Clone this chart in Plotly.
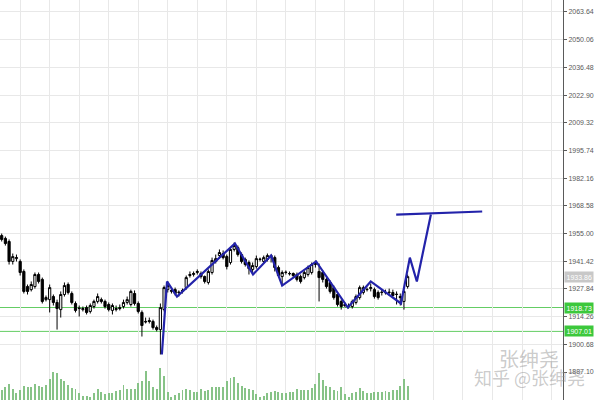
import plotly.graph_objects as go

idx = list(range(111))

opens = [1954.0,1952.6,1951.1,1941.3,1942.7,1941.3,1936.4,1929.0,1927.5,1929.0,
         1934.9,1932.5,1922.6,1922.6,1924.1,1921.2,1917.7,1925.1,1930.0,1925.6,
         1920.7,1918.2,1917.7,1918.7,1916.8,1919.2,1921.7,1922.6,1921.7,1920.2,
         1917.3,1917.7,1918.7,1919.2,1921.2,1920.2,1925.6,1920.7,1916.3,1911.9,
         1912.3,1911.9,1908.9,1907.9,1917.7,1927.5,1926.6,1927.5,1926.1,1926.6,
         1928.5,1934.4,1934.9,1935.9,1935.4,1933.9,1931.0,1935.9,1941.3,1944.2,
         1945.2,1943.7,1940.8,1947.2,1948.1,1944.7,1942.3,1940.8,1937.4,1938.8,
         1942.3,1941.3,1942.3,1944.2,1943.2,1938.3,1933.9,1935.9,1935.4,1935.4,
         1934.9,1933.9,1933.4,1934.9,1935.9,1939.8,1936.4,1935.9,1932.5,1931.0,
         1928.5,1925.1,1921.7,1920.2,1919.2,1919.2,1921.2,1923.6,1926.1,1927.5,
         1928.0,1927.5,1926.1,1926.1,1926.1,1926.1,1926.1,1925.1,1924.1,1921.7,
         1929.0]
highs = [1955.0,1953.5,1952.1,1945.2,1944.7,1942.3,1937.4,1930.0,1931.5,1935.9,
         1935.9,1933.4,1924.6,1930.0,1925.1,1922.6,1926.6,1931.0,1931.0,1926.6,
         1921.7,1919.7,1919.2,1919.7,1920.7,1922.6,1925.6,1923.6,1922.6,1921.2,
         1920.7,1919.7,1920.2,1922.6,1924.1,1927.5,1927.1,1921.7,1917.3,1913.8,
         1913.8,1912.8,1909.9,1920.7,1929.5,1931.5,1928.0,1928.5,1927.1,1928.0,
         1934.4,1936.4,1936.4,1937.4,1936.4,1934.4,1937.4,1943.2,1944.7,1947.2,
         1946.7,1944.7,1948.1,1950.6,1949.1,1945.7,1943.2,1941.8,1940.8,1944.2,
         1943.2,1944.2,1945.2,1944.7,1944.2,1939.3,1936.9,1936.9,1936.4,1935.9,
         1935.9,1934.9,1936.9,1939.3,1940.8,1941.8,1940.3,1936.9,1933.4,1932.0,
         1929.5,1926.1,1922.6,1921.2,1920.7,1922.6,1925.1,1929.5,1929.5,1928.5,
         1930.5,1928.5,1927.1,1927.5,1927.5,1928.0,1927.5,1926.6,1925.6,1927.5,
         1934.9]
lows = [1951.1,1949.1,1939.8,1939.8,1941.3,1934.4,1925.6,1925.1,1926.6,1928.0,
        1930.5,1920.7,1921.7,1916.3,1919.7,1907.9,1913.8,1924.1,1925.1,1920.2,
        1916.3,1914.3,1916.8,1915.3,1915.8,1918.2,1920.7,1920.7,1918.2,1916.8,
        1915.3,1916.8,1917.3,1918.2,1920.2,1919.2,1919.7,1915.8,1904.5,1910.9,
        1910.9,1907.9,1907.0,1895.7,1916.8,1926.1,1925.6,1924.6,1924.1,1925.6,
        1927.5,1933.4,1933.9,1934.9,1932.9,1930.5,1930.0,1934.9,1940.3,1943.2,
        1942.3,1937.4,1939.8,1946.2,1943.7,1940.3,1938.8,1934.9,1935.4,1937.8,
        1941.3,1940.3,1941.3,1940.8,1936.4,1933.4,1929.5,1934.9,1934.4,1933.4,
        1931.5,1930.5,1932.5,1933.9,1934.9,1938.3,1921.7,1931.0,1928.0,1925.6,
        1922.6,1919.2,1917.7,1918.7,1918.2,1918.2,1920.2,1922.6,1925.1,1926.6,
        1926.6,1923.1,1922.6,1924.6,1925.1,1924.6,1924.1,1920.2,1919.7,1917.7,
        1928.0]
closes = [1952.1,1950.1,1941.3,1943.7,1943.2,1935.9,1926.6,1926.6,1930.0,1934.9,
          1931.5,1921.7,1923.6,1928.5,1921.2,1918.2,1925.1,1929.5,1926.1,1921.2,
          1917.3,1918.4,1918.2,1916.3,1919.7,1921.7,1924.1,1921.7,1919.2,1917.7,
          1919.7,1918.2,1918.2,1921.2,1922.6,1926.6,1920.7,1916.8,1909.9,1911.7,
          1911.9,1908.9,1907.9,1918.7,1928.5,1929.5,1927.1,1925.6,1926.2,1927.1,
          1933.4,1934.9,1935.4,1936.4,1933.9,1931.5,1936.4,1941.8,1942.7,1945.7,
          1943.2,1938.8,1947.2,1949.1,1944.7,1941.3,1939.8,1937.8,1939.3,1942.7,
          1942.4,1943.2,1944.2,1943.7,1938.3,1934.4,1935.9,1936.0,1935.3,1934.4,
          1932.5,1931.5,1935.9,1938.3,1939.8,1940.8,1933.4,1932.5,1929.0,1926.6,
          1923.6,1920.2,1919.2,1919.7,1919.3,1921.7,1924.1,1928.5,1928.5,1927.6,
          1928.5,1924.1,1923.6,1926.2,1926.0,1926.2,1924.6,1925.2,1923.6,1926.6,
          1933.86]
volumes = [1000,1300,1600,1100,700,1000,1400,1300,1300,1600,
           1400,1300,1500,2100,2800,2700,2100,1900,1500,1200,
           1100,700,400,400,300,700,1100,800,600,700,
           700,900,1000,1500,1100,1100,1100,1700,1900,2900,
           1900,1300,1100,3200,2400,800,300,500,700,1000,
           1100,1000,800,800,1100,900,1000,1300,1300,1300,
           1300,1900,2200,2300,1700,1400,1200,1100,1000,600,
           300,400,700,800,900,800,700,700,800,800,
           1100,1000,1000,1000,1200,1600,2700,2000,1400,1300,
           1000,900,1300,600,300,700,800,1200,900,700,
           700,800,800,800,900,800,1000,1000,1400,2100,1400]

zig_x = [43.4, 44.8, 47.5, 63.2, 68.1, 73.0, 76.0, 85.2, 93.8, 100.0, 108.2, 110.6, 112.5, 116.3]
zig_y = [1895.7, 1931.5, 1924.1, 1950.1, 1934.9, 1944.2, 1929.5, 1941.3, 1918.7, 1931.5, 1920.7, 1943.2, 1931.5, 1964.3]
target_x = [106.9, 130.2]
target_y = [1964.3, 1965.8]

support_levels = [1918.73, 1907.01]
last_price = 1933.86
tick_vals = [1887.10, 1900.68, 1914.26, 1927.84, 1941.42, 1955.00, 1968.58, 1982.16,
             1995.74, 2009.32, 2022.90, 2036.48, 2050.06, 2063.64]

fig = go.Figure()

fig.add_trace(go.Bar(x=idx, y=volumes, yaxis="y2", width=0.26,
                     marker=dict(color="rgb(135,195,135)", line=dict(width=0)),
                     showlegend=False, hoverinfo="skip"))

fig.add_trace(go.Candlestick(x=idx, open=opens, high=highs, low=lows, close=closes,
                             increasing=dict(line=dict(color="black", width=1), fillcolor="white"),
                             decreasing=dict(line=dict(color="black", width=1), fillcolor="black"),
                             whiskerwidth=0, showlegend=False))

fig.add_trace(go.Scatter(x=zig_x, y=zig_y, mode="lines",
                         line=dict(color="rgb(35,35,170)", width=2.2), showlegend=False))
fig.add_trace(go.Scatter(x=target_x, y=target_y, mode="lines",
                         line=dict(color="rgb(35,35,170)", width=2.2), showlegend=False))

for lv in support_levels:
    fig.add_shape(type="line", xref="paper", x0=0, x1=1, yref="y", y0=lv, y1=lv,
                  line=dict(color="rgb(100,205,100)", width=1), layer="below")

annots = []
for lv in support_levels:
    annots.append(dict(xref="paper", x=1.0, yref="y", y=lv, xanchor="left", yanchor="middle",
                       text=f"{lv:.2f}", showarrow=False, bgcolor="rgb(60,200,60)",
                       font=dict(family="Liberation Sans, Arial", size=7, color="white"),
                       borderpad=1.5, xshift=1))
annots.append(dict(xref="paper", x=1.0, yref="y", y=last_price, xanchor="left", yanchor="middle",
                   text=f"{last_price:.2f}", showarrow=False, bgcolor="rgb(200,200,200)",
                   font=dict(family="Liberation Sans, Arial", size=7, color="white"),
                   borderpad=1.5, xshift=1))
annots.append(dict(xref="paper", yref="paper", x=0.94, y=0.105, text="张绅尧", showarrow=False,
                   font=dict(family="Noto Sans CJK SC", size=20, color="rgba(140,140,140,0.45)"),
                   xanchor="center", yanchor="middle"))
annots.append(dict(xref="paper", yref="paper", x=0.94, y=0.058, text="知乎 @张绅尧", showarrow=False,
                   font=dict(family="Noto Sans CJK SC", size=18, color="rgba(140,140,140,0.45)"),
                   xanchor="center", yanchor="middle"))

fig.update_layout(
    width=600, height=400,
    margin=dict(l=0, r=37, t=0, b=0),
    paper_bgcolor="white", plot_bgcolor="white",
    showlegend=False,
    annotations=annots,
    boxgap=0.15,
    xaxis=dict(range=[-0.46, 152.1], rangeslider=dict(visible=False),
               tickmode="linear", tick0=5, dtick=8, showticklabels=False,
               showgrid=True, gridcolor="rgb(232,232,232)", gridwidth=1, zeroline=False,
               showline=False, ticks=""),
    yaxis=dict(range=[1873.37, 2069.52], side="right", tickmode="array", tickvals=tick_vals,
               ticktext=[f"{v:.2f}" for v in tick_vals],
               showgrid=True, gridcolor="rgb(232,232,232)", gridwidth=1, zeroline=False,
               showline=True, linecolor="rgb(90,90,90)", linewidth=1,
               ticks="outside", ticklen=3, tickcolor="rgb(90,90,90)",
               tickfont=dict(family="Liberation Sans, Arial", size=7, color="rgb(90,90,90)")),
    yaxis2=dict(domain=[0, 0.1], range=[0, 4000], anchor="x", showgrid=False,
                showticklabels=False, zeroline=False, showline=False, ticks=""),
    bargap=0,
)

fig.write_html("out.html", config={"displayModeBar": False},
               post_script="document.body.style.margin='0';")
